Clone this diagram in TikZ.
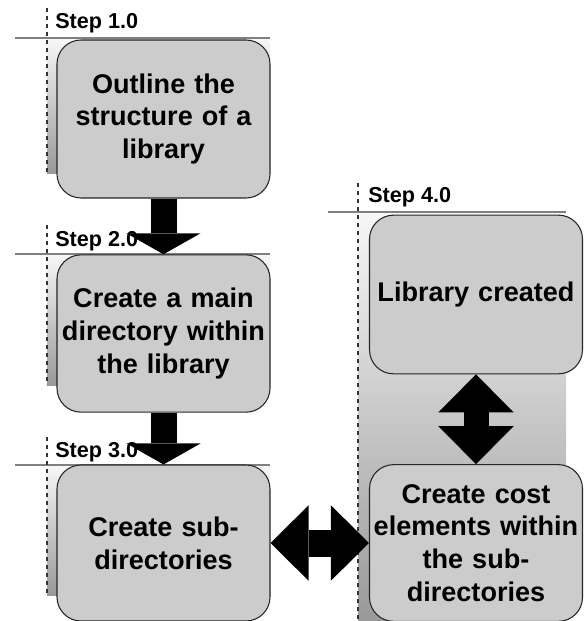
\documentclass[tikz,border=0pt]{standalone}
\usepackage{fontspec}
\setmainfont{Liberation Sans}
\usetikzlibrary{arrows.meta}
\newcommand{\boxwd}{159.75pt}
\newcommand{\shaftw}{19.5pt}

\tikzset{
  stepbox/.style={draw=black!85, line width=0.8pt, fill=black!20, rounded corners=18pt,
    minimum width=\boxwd, minimum height=118pt, inner sep=0pt, text width=155pt, align=center,
    font=\bfseries\fontsize{20.3}{24.5}\selectfont},
  steplabel/.style={anchor=base west, inner sep=0pt, font=\bfseries\fontsize{16.2}{19}\selectfont},
  laneline/.style={draw=black!50, line width=2pt},
  lanedash/.style={draw=black!80, dashed, line width=0.8pt},
  lanefill/.style={top color=black!3, bottom color=black!40},
  blockarrow/.style={line width=\shaftw, -{Triangle[width=55.5pt, length=15.75pt, line width=0pt]}},
  twoway/.style={line width=#1, {Triangle[width=56.5pt, length=28.5pt, line width=0pt]}-{Triangle[width=56.5pt, length=28.5pt, line width=0pt]}}
}

\begin{document}
\begin{tikzpicture}[x=0.75pt, y=-0.75pt]
  \useasboundingbox (0,0) rectangle (583,621);

  % lanes
  \shade[lanefill] (47,38) rectangle (270,173);
  \shade[lanefill] (47,254) rectangle (270,385);
  \shade[lanefill] (47,465) rectangle (270,595);
  \shade[lanefill] (358,212) rectangle (566,621);

  \draw[laneline] (15,38) -- (270,38);
  \draw[laneline] (15,254) -- (270,254);
  \draw[laneline] (15,465) -- (270,465);
  \draw[laneline] (328,212) -- (566,212);

  \draw[lanedash] (47,8) -- (47,173);
  \draw[lanedash] (47,225) -- (47,385);
  \draw[lanedash] (47,437) -- (47,595);
  \draw[lanedash] (358,183) -- (358,621);

  \node[steplabel] (s1) at (55,28) {Step 1.0};
  \node[steplabel] (s2) at (55,246) {Step 2.0};
  \node[steplabel] (s3) at (55,457) {Step 3.0};
  \node[steplabel] (s4) at (368,202) {Step 4.0};

  % steps
  \node[stepbox, minimum height=118.5pt] (outline) at (163.5,119) {Outline the\\structure of a\\library};
  \node[stepbox] (maindir) at (163.5,333.5) {Create a main\\directory within\\the library};
  \node[stepbox, minimum height=117pt] (subdir) at (163.5,543) {Create sub-\\directories};
  \node[stepbox, minimum height=119pt] (created) at (476,294.5) {Library created};
  \node[stepbox, minimum height=117.5pt] (costel) at (476,543) {Create cost\\elements within\\the sub-\\directories};

  % arrows
  \draw[blockarrow] (outline.south) -- (maindir.north);
  \draw[blockarrow] (maindir.south) -- (subdir.north);
  \draw[twoway=20.25pt] (subdir.east) -- (costel.west);
  \draw[twoway=18.75pt] (created.south) -- (costel.north);
\end{tikzpicture}
\end{document}
